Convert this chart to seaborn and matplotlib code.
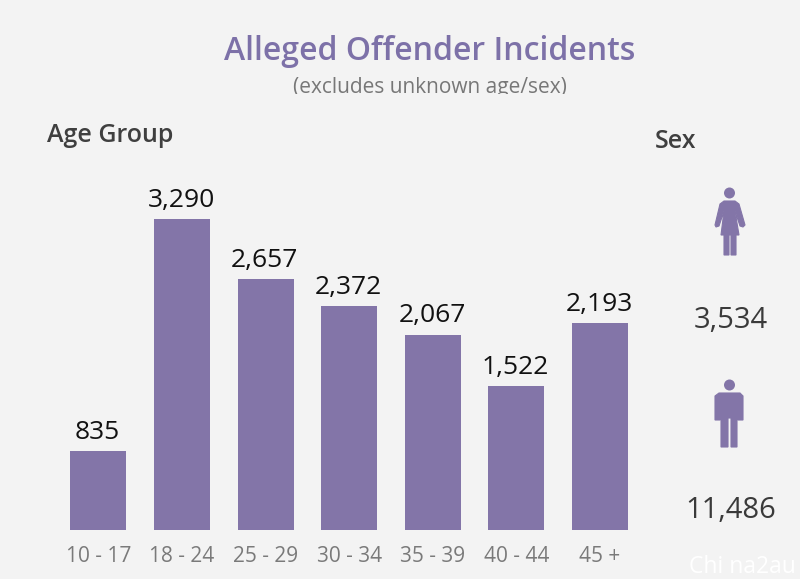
import matplotlib
matplotlib.use('Agg')
import matplotlib.pyplot as plt
from matplotlib.patches import Circle, Polygon, Rectangle
import pandas as pd
import seaborn as sns

# Values
age_groups = ['10 - 17', '18 - 24', '25 - 29', '30 - 34', '35 - 39', '40 - 44', '45 +']
incidents = [835, 3290, 2657, 2372, 2067, 1522, 2193]
sex_values = ['3,534', '11,486']

BG = '#f3f3f3'
PURPLE = '#8375a8'
TITLE = '#7d71a8'
W, H = 800, 579

sns.set_theme(style='white')
plt.rcParams['font.family'] = ['Open Sans', 'DejaVu Sans']

fig = plt.figure(figsize=(W / 100, H / 100), dpi=100, facecolor=BG)

# Bars
ax = fig.add_axes([56.6 / W, 1 - 530 / H, 585 / W, 380 / H], facecolor='none')
df = pd.DataFrame({'age': age_groups, 'incidents': incidents})
sns.barplot(data=df, x='age', y='incidents', color=PURPLE, saturation=1, width=0.67,
            linewidth=0, ax=ax)
ax.set_xlim(-0.5, 6.5)
ax.set_ylim(0, 380 / 0.0945)
ax.set_xlabel('')
ax.set_ylabel('')
ax.set_yticks([])
sns.despine(ax=ax, left=True, bottom=True)
ax.tick_params(axis='x', length=0, pad=11.5, labelsize=15, labelcolor='#7a7a7a')
for i, v in enumerate(incidents):
    ax.annotate(f'{v:,}', (i, v), xytext=(-0.5, 4.5), textcoords='offset points',
                ha='center', va='bottom', fontsize=19, color='#111111')

# Overlay in pixel coordinates for the text and icons
ov = fig.add_axes([0, 0, 1, 1], facecolor='none')
ov.set_xlim(0, W)
ov.set_ylim(H, 0)
ov.axis('off')

ov.text(430, 51, 'Alleged Offender Incidents', ha='center', va='center',
        fontsize=23, fontweight='semibold', color=TITLE)
sub = ov.text(430, 88, '(excludes unknown age/sex)', ha='center', va='center',
              fontsize=15, color='#777777')
# the descenders are cut off in the original
sub.set_clip_path(Rectangle((0, 0), W, 94, transform=ov.transData))
sub.set_clip_on(True)

ov.text(47, 136, 'Age Group', ha='left', va='center', fontsize=18,
        fontweight='semibold', color='#3f3f3f')
ov.text(655, 142, 'Sex', ha='left', va='center', fontsize=18,
        fontweight='semibold', color='#3f3f3f')
ov.text(731, 321, sex_values[0], ha='center', va='center', fontsize=21, color='#3a3a3a')
ov.text(731, 511, sex_values[1], ha='center', va='center', fontsize=21, color='#3a3a3a')
ov.text(742, 567, 'Chi na2au', ha='center', va='center', fontsize=16.5, color='#ffffff')

# Female icon
ov.add_patch(Circle((729.5, 193), 5.5, fc=PURPLE, ec='none'))
ov.add_patch(Polygon([(724, 201), (735, 201), (739, 204), (745, 225), (743, 227),
                     (740, 226), (735, 211), (739, 235), (736, 235), (736, 255),
                     (731, 255), (731, 235), (729, 235), (729, 255), (724, 255),
                     (724, 235), (721, 235), (724, 211), (719, 226), (716, 227),
                     (715, 225), (720, 204)], closed=True, fc=PURPLE, ec=PURPLE, lw=0.8))

# Male icon
ov.add_patch(Circle((729.5, 385), 5.5, fc=PURPLE, ec='none'))
ov.add_patch(Polygon([(719, 393), (740, 393), (743, 396), (743, 420), (738, 420),
                     (738, 402), (737, 402), (737, 447), (731, 447), (731, 418),
                     (728, 418), (728, 447), (721, 447), (721, 402), (720, 402),
                     (720, 420), (715, 420), (715, 396)], closed=True, fc=PURPLE, ec=PURPLE, lw=0.8))

fig.savefig('out.png', dpi=100, facecolor=BG)
